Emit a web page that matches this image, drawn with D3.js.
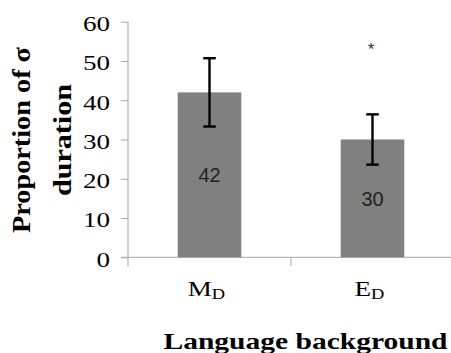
<!DOCTYPE html>
<html>
<head>
<meta charset="utf-8">
<script src="https://cdn.jsdelivr.net/npm/d3@7"></script>
<style>
  body { margin: 0; background: #fff; }
</style>
</head>
<body>
<script>
// data
const groups = ["M", "E"];          // main letter, subscript is "D"
const groupSub = ["D", "D"];
const means = [42, 30];
const errors = [8.7, 6.4];
const marks = ["", "*"];
const yTicks = [0, 10, 20, 30, 40, 50, 60];

const width = 451, height = 353;
const plot = {left: 128, right: 454, top: 21.7, bottom: 257.3};
// the original picture is stretched sideways, so text is too
const stretch = 1.23;
const serif = "'Liberation Serif', 'Times New Roman', serif";
const sans = "'Liberation Sans', Arial, sans-serif";

const svg = d3.select("body").append("svg")
    .attr("width", width)
    .attr("height", height);

const x = d3.scaleBand()
    .domain(groups)
    .range([plot.left, plot.right])
    .padding(0);

const y = d3.scaleLinear()
    .domain([0, 60])
    .range([plot.bottom, plot.top]);

const barW = x.bandwidth() * 0.39;
const mid = g => x(g) + x.bandwidth() / 2;
const axisColor = "#a5a5a5";

// y axis
const yAxis = d3.axisLeft(y)
    .tickValues(yTicks)
    .tickSize(7)
    .tickPadding(18);

const gy = svg.append("g")
    .attr("transform", "translate(" + plot.left + ",0)")
    .call(yAxis)
    .attr("font-family", serif)
    .attr("font-size", 22);
gy.select(".domain").attr("stroke", axisColor).attr("d",
    "M0," + plot.top + "V" + (plot.bottom + 9));
gy.selectAll(".tick line").attr("stroke", axisColor);
gy.selectAll(".tick text")
    .style("font-family", serif)
    .attr("fill", "#000")
    .attr("transform", "scale(" + stretch + ",1)")
    .attr("x", -18 / stretch)
    .attr("dy", "0.4em");

// x axis line and ticks at category boundaries
svg.append("line")
    .attr("x1", plot.left - 7).attr("x2", width)
    .attr("y1", plot.bottom).attr("y2", plot.bottom)
    .attr("stroke", axisColor);

svg.selectAll(".xtick")
    .data(groups.slice(1))
    .enter().append("line")
    .attr("class", "xtick")
    .attr("x1", d => x(d)).attr("x2", d => x(d))
    .attr("y1", plot.bottom).attr("y2", plot.bottom + 9)
    .attr("stroke", axisColor);

// bars
svg.selectAll(".bar")
    .data(means)
    .enter().append("rect")
    .attr("class", "bar")
    .attr("x", (d, i) => mid(groups[i]) - barW / 2)
    .attr("y", d => y(d))
    .attr("width", barW)
    .attr("height", d => y(0) - y(d))
    .attr("fill", "#808080");

// value labels in the middle of each bar
svg.selectAll(".val")
    .data(means)
    .enter().append("text")
    .attr("transform", (d, i) =>
        "translate(" + mid(groups[i]) + "," + ((y(d) + y(0)) / 2) + ")")
    .attr("dy", "0.36em")
    .attr("text-anchor", "middle")
    .style("font-family", sans)
    .attr("font-size", 20)
    .attr("fill", "#222")
    .text(d => d);

// error bars
const cap = 6.3;
const eb = svg.selectAll(".err")
    .data(means)
    .enter().append("g")
    .attr("stroke", "#000")
    .attr("stroke-width", 2.4);
eb.append("line")
    .attr("x1", (d, i) => mid(groups[i]))
    .attr("x2", (d, i) => mid(groups[i]))
    .attr("y1", (d, i) => y(d + errors[i]))
    .attr("y2", (d, i) => y(d - errors[i]));
eb.append("line")
    .attr("x1", (d, i) => mid(groups[i]) - cap)
    .attr("x2", (d, i) => mid(groups[i]) + cap)
    .attr("y1", (d, i) => y(d + errors[i]))
    .attr("y2", (d, i) => y(d + errors[i]));
eb.append("line")
    .attr("x1", (d, i) => mid(groups[i]) - cap)
    .attr("x2", (d, i) => mid(groups[i]) + cap)
    .attr("y1", (d, i) => y(d - errors[i]))
    .attr("y2", (d, i) => y(d - errors[i]));

// significance mark
svg.selectAll(".mark")
    .data(marks)
    .enter().append("text")
    .attr("x", (d, i) => mid(groups[i]) - 1.5)
    .attr("y", 55)
    .attr("text-anchor", "middle")
    .style("font-family", sans)
    .attr("font-size", 17)
    .attr("fill", "#333")
    .text(d => d);

// category labels with subscript
const cl = svg.selectAll(".cat")
    .data(groups)
    .enter().append("text")
    .attr("transform", d => "translate(" + (mid(d) - 3) + ",295.5) scale(" + stretch + ",1)")
    .attr("text-anchor", "middle")
    .style("font-family", serif)
    .attr("font-size", 22)
    .attr("fill", "#000");
cl.append("tspan").text(d => d);
cl.append("tspan")
    .attr("font-size", 15)
    .attr("dy", 3.5)
    .text((d, i) => groupSub[i]);

// axis titles
svg.append("text")
    .attr("transform", "translate(305.5,349) scale(" + stretch + ",1)")
    .attr("text-anchor", "middle")
    .style("font-family", serif)
    .attr("font-weight", "bold")
    .attr("font-size", 24)
    .attr("fill", "#000")
    .text("Language background");

const yt = svg.append("text")
    .attr("transform", "translate(0,140) rotate(-90)")
    .attr("text-anchor", "middle")
    .style("font-family", serif)
    .attr("font-weight", "bold")
    .attr("font-size", 26)
    .attr("fill", "#000");
yt.append("tspan").attr("x", 0).attr("y", 29.5)
    .attr("textLength", 186).attr("lengthAdjust", "spacingAndGlyphs")
    .text("Proportion of σ");
yt.append("tspan").attr("x", 0).attr("y", 71)
    .attr("textLength", 112).attr("lengthAdjust", "spacingAndGlyphs")
    .text("duration");
</script>
</body>
</html>
